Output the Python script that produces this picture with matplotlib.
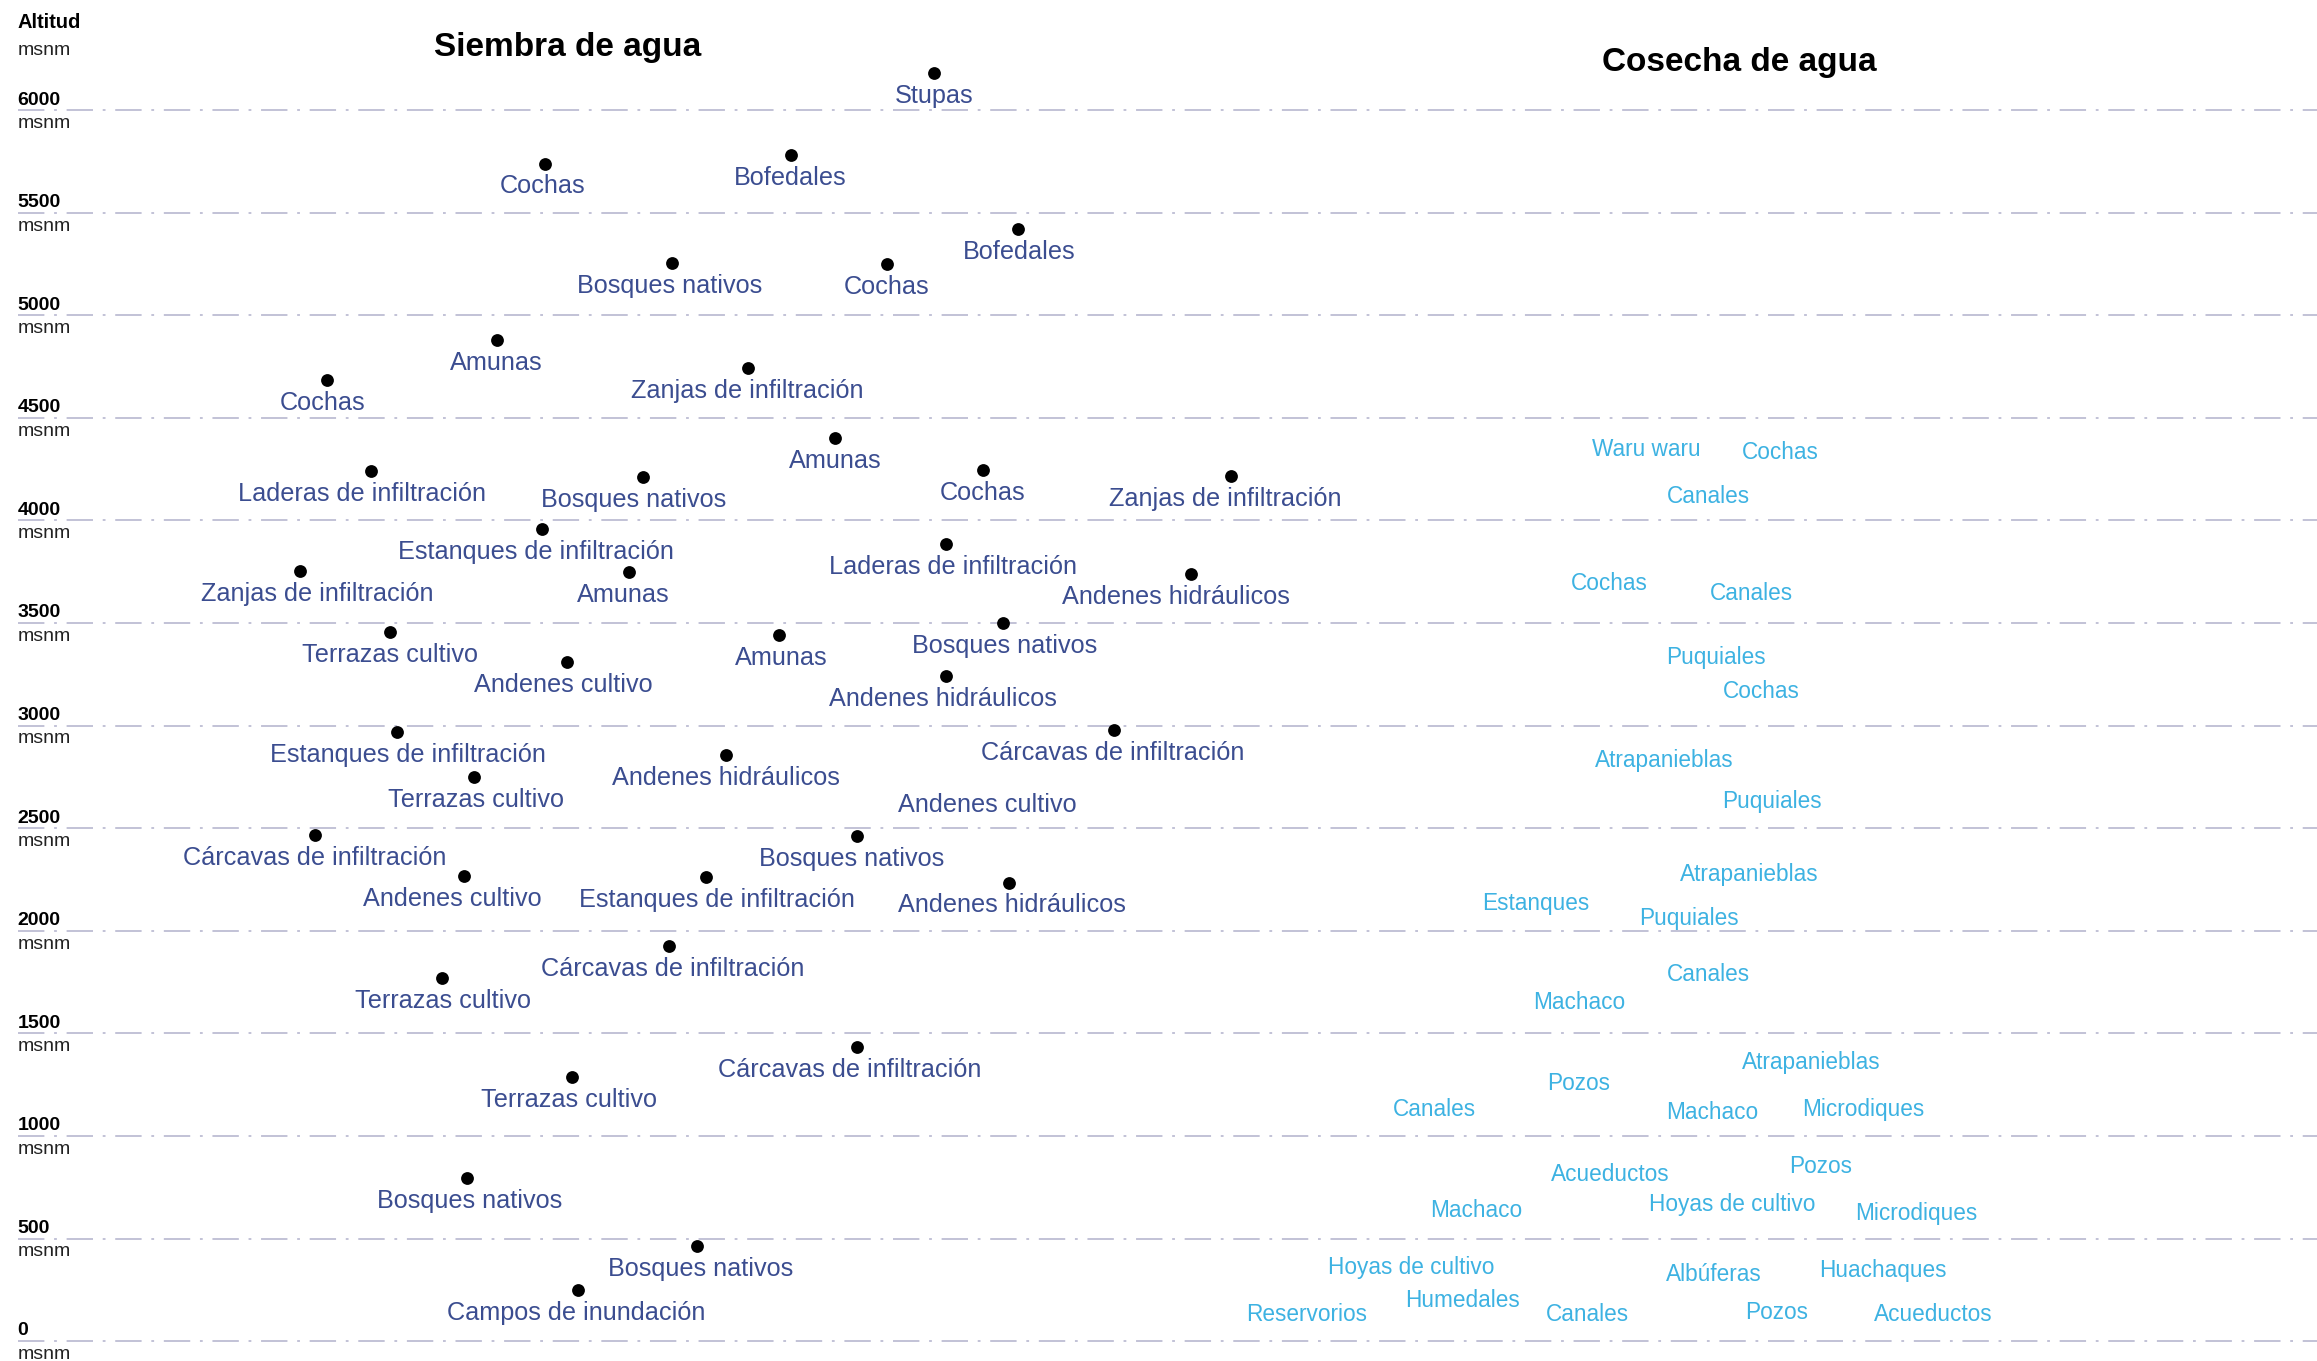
import numpy as np
import matplotlib
matplotlib.use('Agg')
import matplotlib.pyplot as plt

plt.rcParams['font.family'] = ['Liberation Sans', 'DejaVu Sans']
plt.rcParams['lines.scale_dashes'] = False

# Siembra de agua: nombre, posicion horizontal, altitud (msnm)
siembra_nombres = [
	'Stupas', 'Cochas', 'Bofedales', 'Bofedales', 'Bosques nativos', 'Cochas',
	'Amunas', 'Zanjas de infiltración', 'Cochas', 'Amunas', 'Laderas de infiltración',
	'Cochas', 'Zanjas de infiltración', 'Bosques nativos', 'Estanques de infiltración',
	'Laderas de infiltración', 'Zanjas de infiltración', 'Amunas', 'Andenes hidráulicos',
	'Bosques nativos', 'Terrazas cultivo', 'Amunas', 'Andenes cultivo', 'Andenes hidráulicos',
	'Estanques de infiltración', 'Cárcavas de infiltración', 'Andenes hidráulicos',
	'Terrazas cultivo', 'Andenes cultivo', 'Cárcavas de infiltración', 'Bosques nativos',
	'Andenes cultivo', 'Estanques de infiltración', 'Andenes hidráulicos',
	'Cárcavas de infiltración', 'Terrazas cultivo', 'Cárcavas de infiltración',
	'Terrazas cultivo', 'Bosques nativos', 'Bosques nativos', 'Campos de inundación']
siembra_pos = [632, 369, 535, 689, 455, 600, 336, 506, 221, 565, 251, 665, 833, 435, 367,
	640, 203, 426, 806, 679, 264, 527, 384, 640, 269, 754, 491, 321, 668, 213, 580,
	314, 478, 683, 453, 299, 580, 387, 316, 472, 391]
siembra_alt = [6180, 5740, 5780, 5420, 5255, 5250, 4880, 4745, 4685, 4400, 4240, 4245, 4215,
	4210, 3960, 3885, 3755, 3750, 3740, 3500, 3455, 3440, 3310, 3240, 2970, 2980, 2855,
	2750, 2725, 2465, 2460, 2265, 2260, 2235, 1925, 1770, 1435, 1285, 795, 465, 250]
# corrimiento horizontal de la etiqueta respecto al punto
siembra_dx = [0, -2, 0, 1, -2, 0, 0, 0, -3, 0, -6, 0, -4, -6, -4, 5, 12, -4, -10, 1, 0, 2,
	-3, -2, 7, -1, 0, 1, 0, 0, -4, -8, 7, 2, 2, 1, -5, -2, 2, 2, -1]
# el unico sin punto es "Andenes cultivo" (a ~2725 msnm)
siembra_punto = [True] * len(siembra_nombres)
siembra_punto[28] = False

# Cosecha de agua: solo etiquetas
cosecha_nombres = [
	'Waru waru', 'Cochas', 'Canales', 'Cochas', 'Canales', 'Puquiales', 'Cochas',
	'Atrapanieblas', 'Puquiales', 'Atrapanieblas', 'Estanques', 'Puquiales', 'Canales',
	'Machaco', 'Atrapanieblas', 'Pozos', 'Canales', 'Machaco', 'Microdiques', 'Acueductos',
	'Pozos', 'Hoyas de cultivo', 'Machaco', 'Microdiques', 'Hoyas de cultivo', 'Albúferas',
	'Huachaques', 'Humedales', 'Reservorios', 'Canales', 'Pozos', 'Acueductos']
cosecha_pos = [1114, 1205, 1156, 1089, 1185, 1161, 1192, 1126, 1199, 1184, 1039, 1143, 1156,
	1069, 1226, 1068, 971, 1159, 1261, 1090, 1232, 1172, 999, 1297, 955, 1160, 1274, 990,
	884, 1074, 1202, 1308]
cosecha_alt = [4355, 4340, 4125, 3705, 3655, 3340, 3175, 2840, 2640, 2285, 2145, 2070, 1795,
	1660, 1370, 1265, 1140, 1125, 1140, 820, 860, 675, 645, 630, 370, 335, 355, 210, 140,
	140, 150, 140]

niveles = [0, 500, 1000, 1500, 2000, 2500, 3000, 3500, 4000, 4500, 5000, 5500, 6000]

c_siembra = '#3b4d90'
c_cosecha = '#3db2e2'
c_grid = '#b7b7d0'


def main():
	fig = plt.figure(figsize=(23.17, 13.61), dpi=100)
	ax = fig.add_axes([0, 0, 1, 1])
	ax.set_xlim(0, 1568)
	ax.set_ylim(-97, 6537)
	ax.axis('off')

	x0 = 12
	for n in niveles:
		ax.axhline(n, xmin=x0 / 1568, xmax=1, color=c_grid, lw=1.2,
			dashes=(19, 7, 2, 7), zorder=1)
		ax.annotate(str(n), (x0, n), xytext=(0, 1.2), textcoords='offset points',
			ha='left', va='bottom', fontsize=14, fontweight='bold', color='black')
		ax.annotate('msnm', (x0, n), xytext=(0, -3.5), textcoords='offset points',
			ha='left', va='top', fontsize=14, color='#222222')

	# puntos y etiquetas
	px = [x for x, p in zip(siembra_pos, siembra_punto) if p]
	py = [y for y, p in zip(siembra_alt, siembra_punto) if p]
	ax.scatter(px, py, s=85, color='black', zorder=3, linewidths=0)
	for nom, x, y, dx in zip(siembra_nombres, siembra_pos, siembra_alt, siembra_dx):
		ax.annotate(nom, (x + dx, y), xytext=(0, -16.5), textcoords='offset points',
			ha='center', va='center', fontsize=18.2, color=c_siembra, zorder=4)

	for nom, x, y in zip(cosecha_nombres, cosecha_pos, cosecha_alt):
		ax.annotate(nom, (x, y), xytext=(0, -1.5), textcoords='offset points',
			ha='center', va='center', fontsize=16.3, color=c_cosecha)

	fig.text(x0 / 1568, 1 - 15 / 921, 'Altitud', ha='left', va='center',
		fontsize=14.5, fontweight='bold')
	fig.text(x0 / 1568, 1 - 34 / 921, 'msnm', ha='left', va='center', fontsize=14,
		color='#222222')
	fig.text(384 / 1568, 1 - 32 / 921, 'Siembra de agua', ha='center', va='center',
		fontsize=24, fontweight='bold')
	fig.text(1177 / 1568, 1 - 42 / 921, 'Cosecha de agua', ha='center', va='center',
		fontsize=24, fontweight='bold')

	fig.savefig('out.png', dpi=100, facecolor='white')


if __name__ == '__main__':
	main()
